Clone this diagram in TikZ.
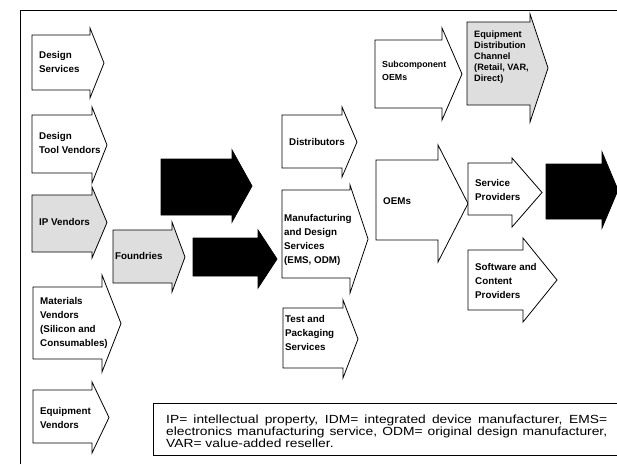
\documentclass[tikz,border=0pt]{standalone}
\usepackage{fontspec}
\setmainfont{Liberation Sans}
\newfontfamily\notefont[FakeStretch=1.17]{Liberation Sans}
\newcommand\flowarrow[8]{% style, x0, ytop, ybot, shoulder x, head top, head bottom, tip x
  \draw[#1] (#2,#3) -- (#5,#3) -- (#5,#6) -- (#8,{(#6+#7)/2}) -- (#5,#7) -- (#5,#4) -- (#2,#4) -- cycle;}
\begin{document}
\begin{tikzpicture}[x=1pt,y=-1pt,
  shp/.style={draw=black,line width=0.8pt,fill=white,line join=miter},
  shaded/.style={shp,fill=black!13},
  dark/.style={shp,fill=black},
  lbl/.style={font=\fontsize{9.8}{13.8}\selectfont\bfseries,align=left,anchor=west,inner sep=0pt},
  smalllbl/.style={lbl,font=\fontsize{8.8}{12.5}\selectfont\bfseries},
  tightlbl/.style={lbl,font=\fontsize{9.2}{11}\selectfont\bfseries},
]
\useasboundingbox (0,0) rectangle (617,464);
\fill[white] (0,0) rectangle (617,464);
\draw[line width=0.8pt] (20,464) -- (20,10) -- (617,10);

% column 1
\flowarrow{shp}{32}{35}{90}{90}{28}{98}{104}
\node[lbl] (ds) at (39,62) {Design\\Services};
\flowarrow{shp}{32}{115}{173}{92}{107}{183}{107}
\node[lbl] (dtv) at (39,143) {Design\\Tool Vendors};
\flowarrow{shaded}{32}{195}{252}{92}{187}{258}{107}
\node[lbl] (ipv) at (39,222) {IP Vendors};
\flowarrow{shp}{33}{287}{359}{102}{275}{372}{121}
\node[lbl] (mv) at (40,323) {Materials\\Vendors\\(Silicon and\\Consumables)};
\flowarrow{shp}{33}{390}{443}{92}{382}{453}{109}
\node[lbl] (ev) at (40,418) {Equipment\\Vendors};

% column 2
\flowarrow{shaded}{113}{230}{283}{172}{222}{292}{185}
\node[lbl] (fd) at (115,256) {Foundries};
\flowarrow{dark}{161}{159}{215}{232}{150}{222}{252}
\coordinate (idm) at (200,186);
\flowarrow{dark}{193}{238}{276}{258}{230}{288}{277}
\coordinate (fab) at (230,257);

% column 3
\flowarrow{shp}{282}{115}{168}{342}{107}{177}{357}
\node[lbl] (dist) at (289,142) {Distributors};
\flowarrow{shp}{282}{190}{278}{350}{185}{293}{368}
\node[lbl] (mfg) at (284,240) {Manufacturing\\and Design\\Services\\(EMS, ODM)};
\flowarrow{shp}{283}{308}{368}{343}{300}{378}{358}
\node[lbl] (tps) at (285,333) {Test and\\Packaging\\Services};

% column 4
\flowarrow{shp}{375}{40}{108}{442}{28}{120}{462}
\node[smalllbl] (sub) at (382,71) {Subcomponent\\OEMs};
\flowarrow{shp}{376}{160}{240}{438}{145}{262}{468}
\node[lbl] (oem) at (383,201) {OEMs};

% column 5
\flowarrow{shaded}{467}{22}{105}{530}{14}{122}{548}
\node[tightlbl] (edc) at (474,57) {Equipment\\Distribution\\Channel\\(Retail, VAR,\\Direct)};
\flowarrow{shp}{468}{163}{215}{512}{158}{227}{542}
\node[lbl] (sp) at (475,190) {Service\\Providers};
\flowarrow{shp}{468}{250}{310}{523}{238}{322}{557}
\node[lbl] (scp) at (475,281) {Software and\\Content\\Providers};

% final
\flowarrow{dark}{546}{164}{219}{602}{152}{228}{618}
\coordinate (end) at (575,190);

% note
\draw[line width=0.8pt] (625,403) -- (153,403) -- (153,455) -- (625,455);
\node[anchor=north west,text width=441pt,align=justify,inner sep=0pt,
  font=\notefont\fontsize{11.8}{12}\selectfont] (note) at (166,415)
  {IP= intellectual property, IDM= integrated device manufacturer, EMS=\linebreak
   electronics manufacturing service, ODM= original design manufacturer,\linebreak
   VAR= value-added reseller.};
\end{tikzpicture}
\end{document}
